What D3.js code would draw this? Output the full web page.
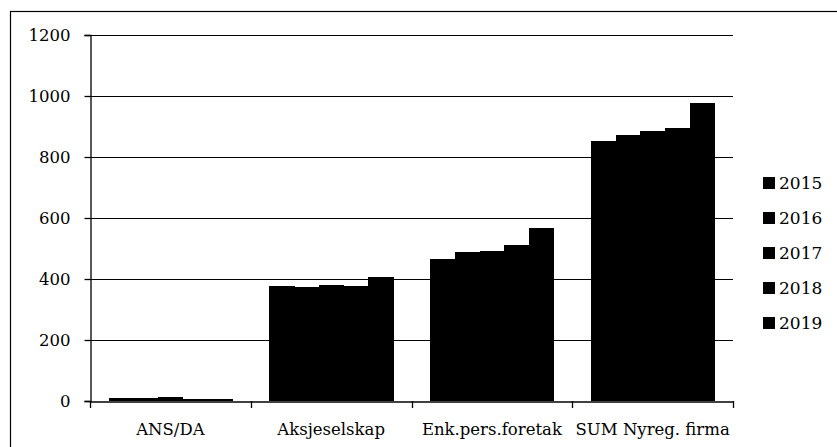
<!DOCTYPE html>
<html>
<head>
<meta charset="utf-8">
<script src="https://cdn.jsdelivr.net/npm/d3@7"></script>
<style>
body { margin: 0; background: #fff; }
text { font-family: "DejaVu Serif", "Liberation Serif", serif; }
</style>
</head>
<body>
<script>
const categories = ["ANS/DA", "Aksjeselskap", "Enk.pers.foretak", "SUM Nyreg. firma"];
const years = ["2015", "2016", "2017", "2018", "2019"];
// one array per year, values per category
const v2015 = [10, 377, 466, 853];
const v2016 = [9, 374, 488, 871];
const v2017 = [13, 380, 493, 886];
const v2018 = [7, 378, 511, 896];
const v2019 = [5, 407, 566, 978];
const yTicks = [0, 200, 400, 600, 800, 1000, 1200];

const series = [v2015, v2016, v2017, v2018, v2019];
const rows = categories.map((c, i) => ({cat: c, vals: series.map(s => s[i])}));

const W = 837, H = 447;
const m = {left: 90, right: 104, top: 35, bottom: 46};
const FONT = "'DejaVu Serif', 'Liberation Serif', serif";

const svg = d3.select("body").append("svg")
    .attr("width", W)
    .attr("height", H);

// chart frame
svg.append("rect")
    .attr("x", 10.5).attr("y", 11.5)
    .attr("width", W).attr("height", H)
    .attr("fill", "none")
    .attr("stroke", "#000")
    .attr("stroke-width", 1.2);

const x = d3.scaleBand().domain(categories)
    .range([m.left, W - m.right]);
const x1 = d3.scaleBand().domain(years)
    .range([0, x.bandwidth()])
    .paddingOuter(0.75).paddingInner(0);
const y = d3.scaleLinear().domain([0, 1200])
    .range([H - m.bottom, m.top]);

// gridlines
svg.append("g").selectAll("line").data(yTicks.slice(1))
    .enter().append("line")
        .attr("x1", m.left).attr("x2", W - m.right)
        .attr("y1", d => Math.round(y(d)) + 0.5)
        .attr("y2", d => Math.round(y(d)) + 0.5)
        .attr("stroke", "#000")
        .attr("stroke-width", 1);

// bars
svg.append("g").selectAll("g").data(rows)
    .enter().append("g")
        .attr("transform", d => `translate(${x(d.cat)},0)`)
    .selectAll("rect").data(d => d.vals.map((v, i) => ({year: years[i], v})))
    .enter().append("rect")
        .attr("x", d => x1(d.year))
        .attr("width", x1.bandwidth() + 0.6)
        .attr("y", d => y(d.v))
        .attr("height", d => y(0) - y(d.v))
        .attr("fill", "#000")
        .attr("shape-rendering", "crispEdges");

// y axis
const yAxis = svg.append("g")
    .attr("transform", `translate(${m.left + 0.5},0)`)
    .call(d3.axisLeft(y).tickValues(yTicks).tickFormat(d3.format("d"))
        .tickSize(6).tickPadding(14));
yAxis.attr("font-family", null).attr("font-size", null);
yAxis.selectAll("text").attr("font-size", 16.5).attr("fill", "#000")
    .style("font-family", FONT);
yAxis.selectAll("line, path").attr("stroke", "#000").attr("stroke-width", 1.3);

// x axis
const xAxis = svg.append("g")
    .attr("transform", `translate(0,${Math.round(y(0)) + 0.5})`)
    .call(d3.axisBottom(x).tickSize(0).tickPadding(22));
xAxis.attr("font-family", null).attr("font-size", null);
xAxis.select(".domain").attr("stroke", "#000").attr("stroke-width", 1.3);
xAxis.selectAll("text").attr("font-size", 16.5).attr("fill", "#000")
    .style("font-family", FONT);
// category boundary ticks
svg.append("g").selectAll("line")
    .data(categories.map(c => x(c)).concat([x(categories[categories.length - 1]) + x.bandwidth()]))
    .enter().append("line")
        .attr("x1", d => Math.round(d) + 0.5).attr("x2", d => Math.round(d) + 0.5)
        .attr("y1", y(0)).attr("y2", y(0) + 7)
        .attr("stroke", "#000").attr("stroke-width", 1.3);

// legend
const legend = svg.append("g").selectAll("g").data(years)
    .enter().append("g")
        .attr("transform", (d, i) => `translate(763,${183 + i * 35})`);
legend.append("rect")
    .attr("x", 0).attr("y", -6)
    .attr("width", 12).attr("height", 12)
    .attr("fill", "#000");
legend.append("text")
    .attr("x", 16).attr("y", 6)
    .attr("font-size", 17)
    .style("font-family", FONT)
    .text(d => d);
</script>
</body>
</html>
